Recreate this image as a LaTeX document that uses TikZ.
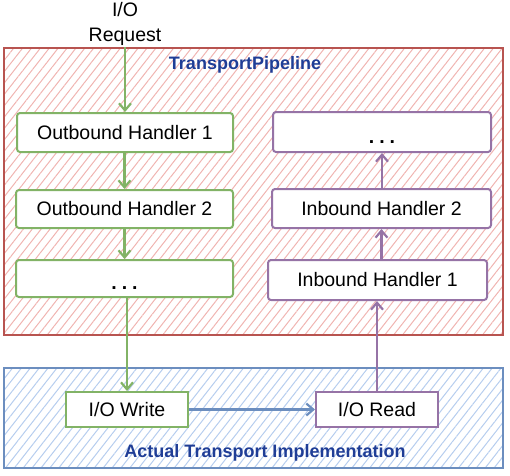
\documentclass[tikz,border=0pt]{standalone}
\usepackage{fontspec}
\setmainfont{Liberation Sans}
\usetikzlibrary{patterns.meta,arrows.meta}
\definecolor{redb}{HTML}{B85450}
\definecolor{redh}{HTML}{F0B4B1}
\definecolor{blueb}{HTML}{6C8EBF}
\definecolor{blueh}{HTML}{B6CDEE}
\definecolor{greenb}{HTML}{82B366}
\definecolor{purpb}{HTML}{9673A6}
\definecolor{titleblue}{HTML}{1F3D96}
\tikzset{
  hfont/.style={font=\fontsize{19.5}{22}\selectfont},
  hbox/.style={draw=#1, fill=white, line width=2pt, rounded corners=3pt, hfont, inner sep=0pt},
  conn/.style={draw=#1, line width=2.8pt, -{Straight Barb[length=7pt,width=12pt,line width=2.2pt]}},
  area/.style={draw=#1, line width=1.6pt},
}
\newcommand{\hdots}{\smash{\raisebox{-11pt}{\textbf{.\hspace{5pt}.\hspace{5pt}.}}}}
\begin{document}
\begin{tikzpicture}[x=1pt,y=-1pt]
\useasboundingbox (0,0) rectangle (510,475);
% areas
\draw[area=redb, pattern={Lines[angle=52,distance=7pt,line width=1pt]}, pattern color=redh] (4,48) rectangle (503,335);
\draw[area=blueb, pattern={Lines[angle=52,distance=7pt,line width=1pt]}, pattern color=blueh] (4,368) rectangle (503,468);
\node[text=titleblue, font=\fontsize{18}{20}\selectfont\bfseries] (tp) at (245,65) {TransportPipeline};
\node[text=titleblue, font=\fontsize{18}{20}\selectfont\bfseries] (ati) at (265,453) {Actual Transport Implementation};
% request
\node[align=center, inner sep=1pt, font=\fontsize{19.5}{25}\selectfont] (req) at (125,24) {I/O\\Request};
% left column
\node[hbox=greenb, minimum width=216pt, minimum height=39pt] (oh1) at (125,132.5) {Outbound Handler 1};
\node[hbox=greenb, minimum width=217pt, minimum height=38pt] (oh2) at (124.5,209) {Outbound Handler 2};
\node[hbox=greenb, minimum width=217pt, minimum height=37pt] (ld) at (124.5,278.5) {\hdots};
% right column
\node[hbox=purpb, minimum width=218pt, minimum height=40pt] (rd) at (382,132) {\hdots};
\node[hbox=purpb, minimum width=219pt, minimum height=39pt] (ih2) at (381.5,208.5) {Inbound Handler 2};
\node[hbox=purpb, minimum width=219pt, minimum height=40pt] (ih1) at (377.5,280) {Inbound Handler 1};
% bottom
\node[hbox=greenb, rounded corners=0pt, minimum width=122pt, minimum height=35pt] (iow) at (127,409.5) {I/O Write};
\node[hbox=purpb, rounded corners=0pt, minimum width=122pt, minimum height=35pt] (ior) at (377,409.5) {I/O Read};
% connectors
\draw[conn=greenb] (req.south -| oh1) -- (oh1.north);
\draw[conn=greenb] (oh1.south -| oh2) -- (oh2.north);
\draw[conn=greenb] (oh2.south -| ld) -- (ld.north);
\draw[conn=greenb] (ld.south -| iow) -- (iow.north);
\draw[conn=purpb] (ior.north) -- (ih1.south -| ior);
\draw[conn=purpb] (ih1.north -| ih2) -- (ih2.south);
\draw[conn=purpb] (ih2.north -| rd) -- (rd.south);
\draw[conn=blueb] (iow.east) -- (ior.west);
\end{tikzpicture}
\end{document}
